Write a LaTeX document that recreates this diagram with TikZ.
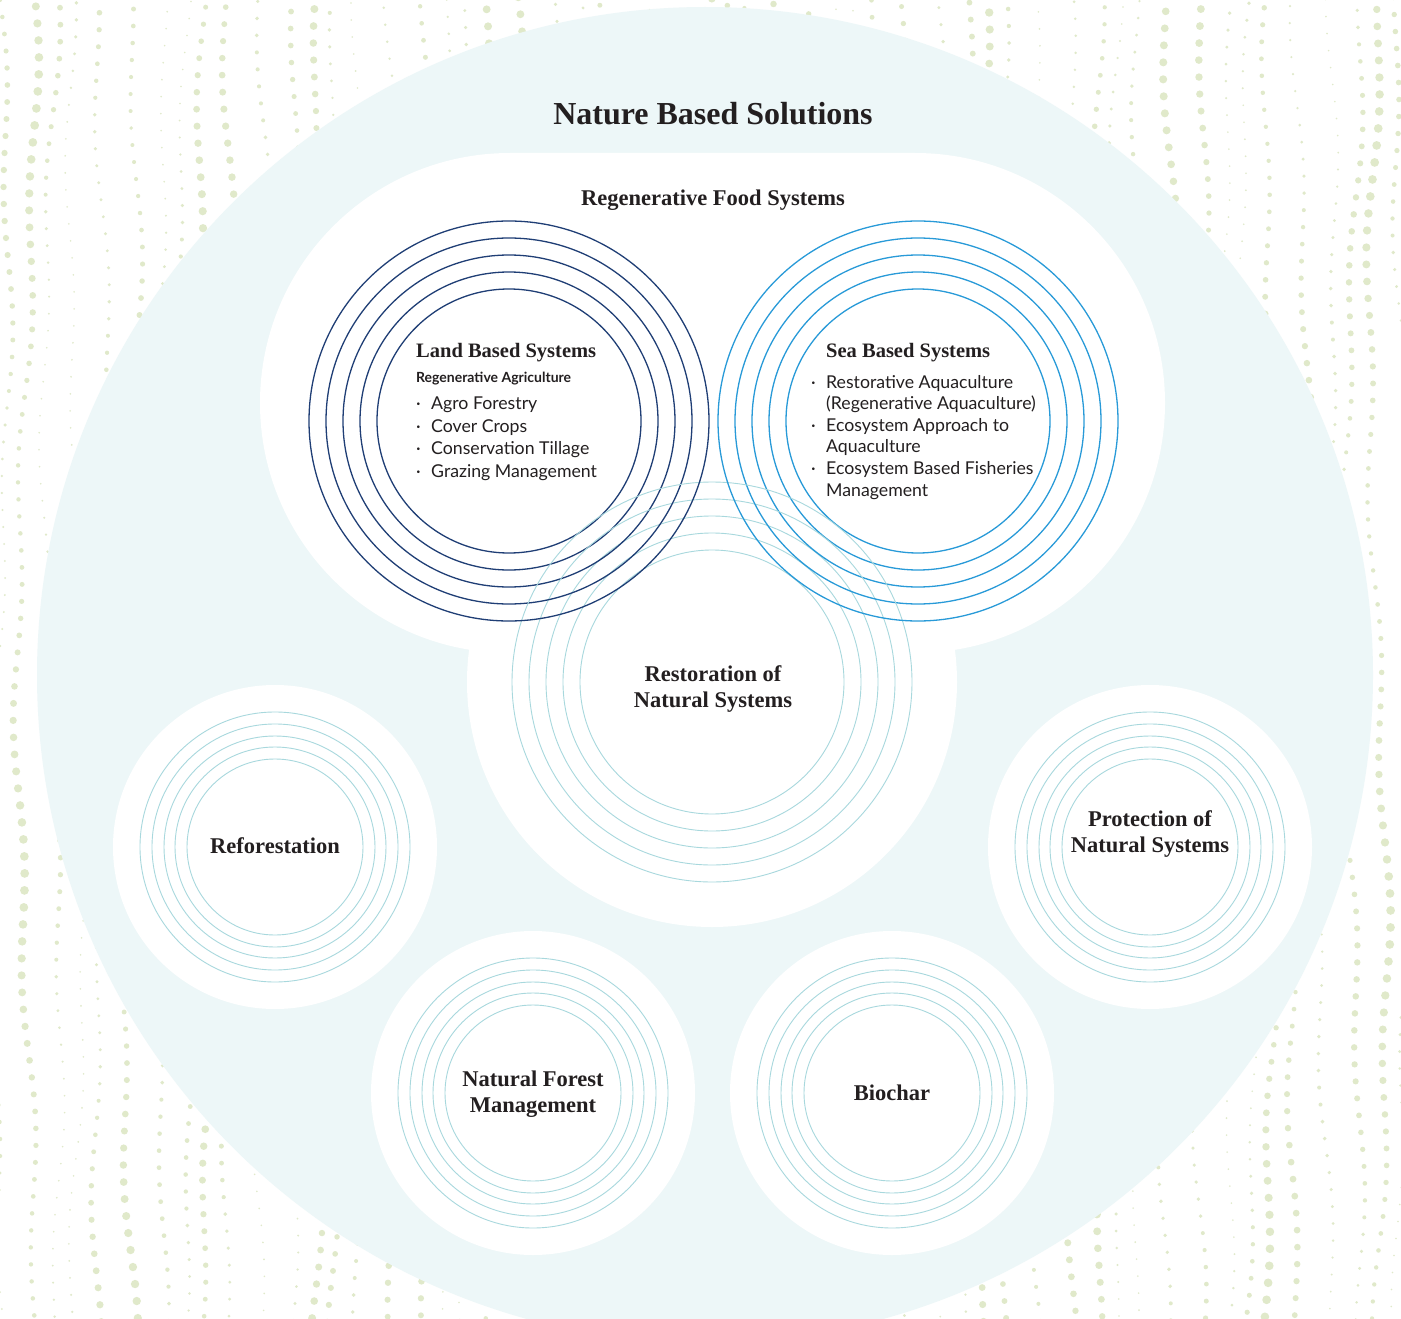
\documentclass[tikz,border=0pt]{standalone}
\usepackage{fontspec}
\setmainfont{Liberation Serif}
\newfontfamily\latofont{Lato}

\definecolor{bgblue}{RGB}{237,247,248}
\definecolor{dotc}{RGB}{224,233,202}
\definecolor{landblue}{RGB}{31,62,117}
\definecolor{seablue}{RGB}{40,154,216}
\definecolor{paleteal}{RGB}{168,216,221}
\definecolor{inkc}{RGB}{35,31,32}

\newcommand\itm{\makebox[15pt][l]{·}}
\newcommand\cnt{\hspace*{15pt}}

\tikzset{
  landring/.style={draw=landblue, line width=1.3pt},
  searing/.style={draw=seablue, line width=1.3pt},
  tealring/.style={draw=paleteal, line width=0.9pt},
  titletxt/.style={font=\bfseries\fontsize{32}{36}\selectfont, text=inkc, inner sep=0pt},
  headtxt/.style={font=\bfseries\fontsize{20.5}{24}\selectfont, text=inkc, inner sep=0pt},
  circtxt/.style={font=\bfseries\fontsize{22.5}{25.5}\selectfont, text=inkc, inner sep=0pt, align=center},
  subtxt/.style={font=\latofont\bfseries\fontsize{14}{16}\selectfont, text=inkc, inner sep=0pt},
  listtxt/.style={font=\latofont\fontsize{17.7}{#1}\selectfont, text=inkc, inner sep=0pt, align=left}
}

\begin{document}
\begin{tikzpicture}
  [x=1pt, y=-1pt]
  \useasboundingbox (0,0) rectangle (1401,1319);
  \clip (0,0) rectangle (1401,1319);
  \fill[white] (0,0) rectangle (1401,1319);

  \foreach \i in {0,...,54}{
    \foreach \j in {0,...,78}{
      \pgfmathsetmacro\px{\i*26 + 9*sin(\j*5 + \i*71) + 4*sin(\j*23 + \i*19)}
      \pgfmathsetmacro\py{\j*17 + 8*sin(\i*53)}
      \pgfmathsetmacro\rr{max(0.9, 2.1 + 1.2*sin(\i*97) + 1.1*sin(\j*8 + \i*41))}
      \fill[dotc] (\px,\py) circle[radius=\rr pt];
    }
  }

  \fill[bgblue] (705,675) circle[radius=668pt];

  \fill[white] (510,153) -- (915,153) arc[start angle=90, end angle=-90, radius=250pt]
    -- (510,653) arc[start angle=270, end angle=90, radius=250pt] -- cycle;
  \fill[white] (712,682) circle[radius=245pt];
  \foreach \cx/\cy in {275/847, 1150/847, 533/1093, 892/1093}
    \fill[white] (\cx,\cy) circle[radius=162pt];

  \foreach \r in {132,149,166,183,200}{
    \draw[tealring] (712,682) circle[radius=\r pt];
    \draw[landring] (509,421) circle[radius=\r pt];
    \draw[searing] (918,421) circle[radius=\r pt];
  }
  \foreach \cx/\cy in {275/847, 1150/847, 533/1093, 892/1093}
    \foreach \r in {88,100,111,123,135}
      \draw[tealring] (\cx,\cy) circle[radius=\r pt];

  \node[titletxt, anchor=base] (title) at (713,125) {Nature Based Solutions};
  \node[headtxt, anchor=base, font=\bfseries\fontsize{22.5}{24}\selectfont] (food) at (713,205) {Regenerative Food Systems};

  \node[headtxt, anchor=base west] (land) at (416,357) {Land Based Systems};
  \node[subtxt, anchor=base west] (regag) at (416,382) {Regenerative Agriculture};
  \node[listtxt=22.5, anchor=base west] (landlist) at (416,477)
    {\itm Agro Forestry\\ \itm Cover Crops\\ \itm Conservation Tillage\\ \itm Grazing Management};

  \node[headtxt, anchor=base west] (sea) at (826,357) {Sea Based Systems};
  \node[listtxt=21.6, anchor=base west] (sealist) at (811,496)
    {\itm Restorative Aquaculture\\ \cnt (Regenerative Aquaculture)\\ \itm Ecosystem Approach to\\
     \cnt Aquaculture\\ \itm Ecosystem Based Fisheries\\ \cnt Management};

  \node[circtxt, anchor=base] (restore) at (713,707) {Restoration of\\Natural Systems};
  \node[circtxt, anchor=base] (refor) at (275,853) {Reforestation};
  \node[circtxt, anchor=base] (protect) at (1150,852) {Protection of\\Natural Systems};
  \node[circtxt, anchor=base] (forest) at (533,1112) {Natural Forest\\Management};
  \node[circtxt, anchor=base] (biochar) at (892,1100) {Biochar};
\end{tikzpicture}
\end{document}
